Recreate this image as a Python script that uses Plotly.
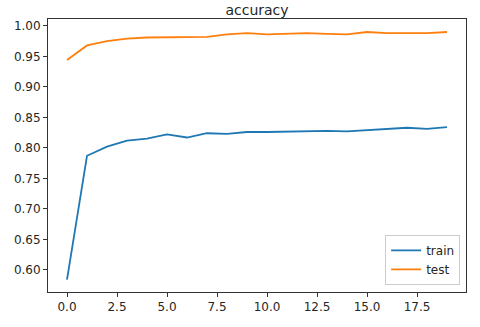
import plotly.graph_objects as go

epochs = list(range(20))
train_acc = [0.584, 0.787, 0.802, 0.812, 0.815, 0.822, 0.817, 0.824, 0.823, 0.826,
             0.826, 0.827, 0.828, 0.828, 0.827, 0.829, 0.830, 0.833, 0.831, 0.834]
test_acc = [0.944, 0.968, 0.975, 0.979, 0.981, 0.981, 0.982, 0.982, 0.986, 0.988,
            0.986, 0.987, 0.988, 0.987, 0.986, 0.990, 0.988, 0.988, 0.988, 0.990]
x_ticks = [0, 2.5, 5, 7.5, 10, 12.5, 15, 17.5]
y_ticks = [0.60, 0.65, 0.70, 0.75, 0.80, 0.85, 0.90, 0.95, 1.00]

fig = go.Figure()
fig.add_trace(go.Scatter(x=epochs, y=train_acc, mode="lines", name="train",
                         line=dict(color="#1f77b4", width=1.8)))
fig.add_trace(go.Scatter(x=epochs, y=test_acc, mode="lines", name="test",
                         line=dict(color="#ff7f0e", width=1.8)))

font = "DejaVu Sans"
fig.update_layout(
    width=480, height=327,
    margin=dict(l=48, r=14, t=19, b=35),
    paper_bgcolor="white", plot_bgcolor="white",
    font=dict(family=font, size=12, color="#262626"),
    title=dict(text="accuracy", x=0.5, xref="paper", xanchor="center",
               y=1 - 10 / 327, yref="container", yanchor="middle",
               font=dict(family=font, size=14, color="#262626")),
    showlegend=True,
    legend=dict(x=0.986, y=0.026, xanchor="right", yanchor="bottom",
                bgcolor="white", bordercolor="#cccccc", borderwidth=1,
                font=dict(family=font, size=12, color="#262626"),
                itemwidth=30, tracegroupgap=0),
)
fig.update_xaxes(range=[-0.95, 19.95], tickvals=x_ticks,
                 ticktext=[f"{v:.1f}" for v in x_ticks],
                 showgrid=False, zeroline=False, showline=True, mirror=True,
                 linecolor="#333333", linewidth=1, ticks="outside", ticklen=4,
                 tickcolor="#333333")
fig.update_yaxes(range=[0.5637, 1.0113], tickvals=y_ticks,
                 ticktext=[f"{v:.2f}" for v in y_ticks],
                 showgrid=False, zeroline=False, showline=True, mirror=True,
                 linecolor="#333333", linewidth=1, ticks="outside", ticklen=4,
                 tickcolor="#333333")

fig.write_html("out.html")
